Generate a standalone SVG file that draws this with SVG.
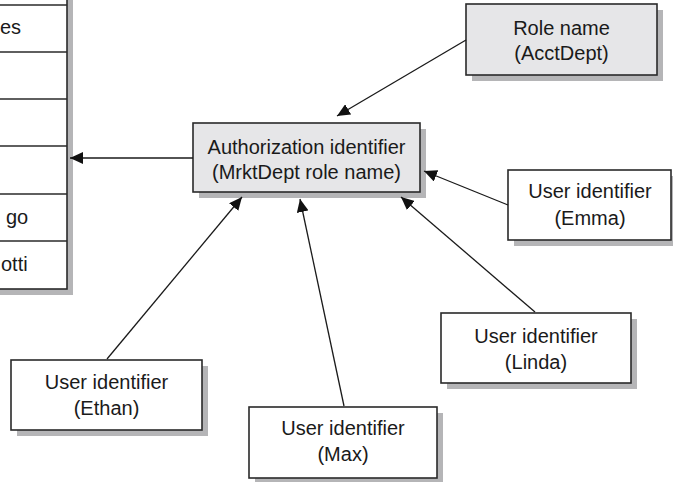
<svg xmlns="http://www.w3.org/2000/svg" width="673" height="482" viewBox="0 0 673 482">
<style>
.bg{fill:#ffffff}
.shadow{fill:#b5b5b7}
.box{stroke:#2a2a2a;stroke-width:1.6}
.gray{fill:#e6e6e8}
.white{fill:#ffffff}
.t{font-family:"Liberation Sans",Arial,sans-serif;font-size:20px;fill:#1a1a1a;text-anchor:middle}
.tl{font-family:"Liberation Sans",Arial,sans-serif;font-size:20px;fill:#1a1a1a}
.conn{stroke:#1a1a1a;stroke-width:1.3;fill:none;marker-end:url(#arr)}
.row{stroke:#2a2a2a;stroke-width:1.6}
</style>
<defs>
<marker id="arr" viewBox="0 0 13 12" refX="13" refY="6" markerWidth="13" markerHeight="12" orient="auto" markerUnits="userSpaceOnUse">
<path d="M0,0 L13,6 L0,12 z" fill="#111"/>
</marker>
</defs>
<rect class="bg" x="0" y="0" width="673" height="482"/>

<g id="table">
<rect class="shadow" x="-10" y="-10" width="83" height="305"/>
<rect class="box white" x="-10" y="-10" width="77" height="299"/>
<line class="row" x1="-10" y1="5" x2="67" y2="5"/>
<line class="row" x1="-10" y1="52" x2="67" y2="52"/>
<line class="row" x1="-10" y1="99" x2="67" y2="99"/>
<line class="row" x1="-10" y1="146" x2="67" y2="146"/>
<line class="row" x1="-10" y1="194" x2="67" y2="194"/>
<line class="row" x1="-10" y1="241" x2="67" y2="241"/>
<text class="tl" x="0" y="34">es</text>
<text class="tl" x="6" y="224">go</text>
<text class="tl" x="1" y="271">otti</text>
</g>

<g id="role">
<rect class="shadow" x="472" y="10" width="191" height="71"/>
<rect class="box gray" x="466" y="4" width="191" height="71"/>
<text class="t" x="561.5" y="35">Role name</text>
<text class="t" x="561.5" y="60">(AcctDept)</text>
</g>

<g id="auth">
<rect class="shadow" x="199" y="129" width="227" height="69"/>
<rect class="box gray" x="193" y="123" width="227" height="69"/>
<text class="t" x="306.5" y="154">Authorization identifier</text>
<text class="t" x="306.5" y="179">(MrktDept role name)</text>
</g>

<g id="emma">
<rect class="shadow" x="514" y="176" width="163" height="70"/>
<rect class="box white" x="508" y="170" width="163" height="70"/>
<text class="t" x="590" y="198">User identifier</text>
<text class="t" x="590" y="225">(Emma)</text>
</g>

<g id="linda">
<rect class="shadow" x="447" y="319" width="190" height="70"/>
<rect class="box white" x="441" y="313" width="190" height="70"/>
<text class="t" x="536" y="343">User identifier</text>
<text class="t" x="536" y="369">(Linda)</text>
</g>

<g id="ethan">
<rect class="shadow" x="17" y="366" width="191" height="70"/>
<rect class="box white" x="11" y="360" width="191" height="70"/>
<text class="t" x="106.5" y="389">User identifier</text>
<text class="t" x="106.5" y="415">(Ethan)</text>
</g>

<g id="max">
<rect class="shadow" x="255" y="413" width="188" height="71"/>
<rect class="box white" x="249" y="407" width="188" height="71"/>
<text class="t" x="343" y="435">User identifier</text>
<text class="t" x="343" y="461">(Max)</text>
</g>

<g id="connectors">
<line class="conn" x1="466" y1="40" x2="337" y2="116"/>
<line class="conn" x1="193" y1="158" x2="70" y2="158"/>
<line class="conn" x1="508" y1="205" x2="424" y2="171"/>
<line class="conn" x1="535" y1="312" x2="401" y2="197"/>
<line class="conn" x1="344" y1="406" x2="300" y2="199"/>
<line class="conn" x1="107" y1="359" x2="242" y2="197"/>
</g>
</svg>
